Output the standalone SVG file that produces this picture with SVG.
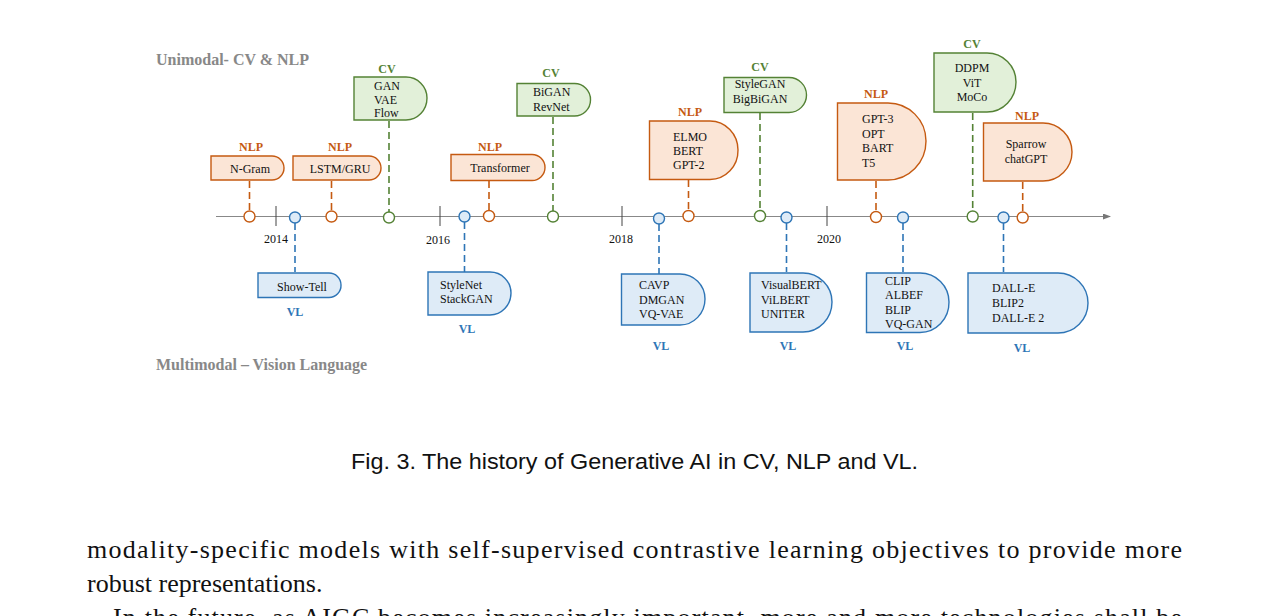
<svg xmlns="http://www.w3.org/2000/svg" width="1268" height="616" viewBox="0 0 1268 616">
<style>
.t{font-family:"Liberation Serif",serif;font-size:12px;fill:#111}
.c{text-anchor:middle}
.lab{font-family:"Liberation Serif",serif;font-size:12px;font-weight:bold;text-anchor:middle}
.no{fill:#fbe5d6;stroke:#c55a11;stroke-width:1.4}
.ng{fill:#e2f0d9;stroke:#548235;stroke-width:1.4}
.nb{fill:#deebf7;stroke:#2e75b6;stroke-width:1.4}
.lo{stroke:#c55a11;stroke-width:1.6;stroke-dasharray:7,4;fill:none}
.lg{stroke:#548235;stroke-width:1.6;stroke-dasharray:7,4;fill:none}
.lb{stroke:#2e75b6;stroke-width:1.6;stroke-dasharray:7,4;fill:none}
.co{fill:#fff;stroke:#c55a11;stroke-width:1.4}
.cg{fill:#fff;stroke:#548235;stroke-width:1.4}
.cb{fill:#deebf7;stroke:#2e75b6;stroke-width:1.4}
.yr{font-family:"Liberation Serif",serif;font-size:12px;fill:#111;text-anchor:middle}
.hd{font-family:"Liberation Serif",serif;font-size:16px;font-weight:bold;fill:#888}
.body{font-family:"Liberation Serif",serif;font-size:26px;fill:#111}
</style>
<defs><marker id="ar" markerWidth="8" markerHeight="6" refX="7" refY="3" orient="auto"><path d="M0,0 L8,3 L0,6 Z" fill="#777"/></marker></defs>
<text class="hd" x="156" y="65">Unimodal- CV &amp; NLP</text>
<text class="hd" x="156" y="370">Multimodal – Vision Language</text>
<g id="connectors">
<line x1="216" y1="216.5" x2="1110" y2="216.5" stroke="#888" stroke-width="1" marker-end="url(#ar)"/>
<g stroke="#444" stroke-width="1"><line x1="276" y1="206" x2="276" y2="226"/><line x1="440" y1="206" x2="440" y2="226"/><line x1="622" y1="206" x2="622" y2="226"/><line x1="827" y1="206" x2="827" y2="226"/></g>
<line class="lo" x1="249.5" y1="181" x2="249.5" y2="211"/>
<line class="lo" x1="331.5" y1="181" x2="331.5" y2="211"/>
<line class="lg" x1="389" y1="121" x2="389" y2="212"/>
<line class="lb" x1="295" y1="223" x2="295" y2="272"/>
<line class="lb" x1="464.5" y1="222" x2="464.5" y2="272"/>
<line class="lo" x1="489" y1="181" x2="489" y2="211"/>
<line class="lg" x1="553" y1="117" x2="553" y2="211"/>
<line class="lo" x1="688.5" y1="180" x2="688.5" y2="210"/>
<line class="lb" x1="659" y1="224" x2="659" y2="274"/>
<line class="lg" x1="760" y1="113" x2="760" y2="210"/>
<line class="lb" x1="786.5" y1="223" x2="786.5" y2="272"/>
<line class="lo" x1="876" y1="181" x2="876" y2="211"/>
<line class="lb" x1="903" y1="223" x2="903" y2="272"/>
<line class="lg" x1="972.7" y1="113" x2="972.7" y2="211"/>
<line class="lb" x1="1003.5" y1="223" x2="1003.5" y2="272"/>
<line class="lo" x1="1022.7" y1="182" x2="1022.7" y2="212"/>
</g>
<g><circle class="co" cx="249.5" cy="216.5" r="5.5"/><circle class="co" cx="331.5" cy="216.5" r="5.5"/><circle class="cg" cx="389" cy="217.5" r="5.5"/><circle class="cb" cx="295" cy="217.5" r="5.5"/><circle class="cb" cx="464.5" cy="216.5" r="5.5"/><circle class="co" cx="489" cy="216" r="5.5"/><circle class="cg" cx="553" cy="216.5" r="5.5"/><circle class="co" cx="688.5" cy="216" r="5.5"/><circle class="cb" cx="659" cy="218.5" r="5.5"/><circle class="cg" cx="760" cy="216" r="5.5"/><circle class="cb" cx="786.5" cy="217.5" r="5.5"/><circle class="co" cx="876" cy="217" r="5.5"/><circle class="cb" cx="903" cy="217.5" r="5.5"/><circle class="cg" cx="972.7" cy="216.5" r="5.5"/><circle class="cb" cx="1003.5" cy="217.5" r="5.5"/><circle class="co" cx="1022.7" cy="217.5" r="5.5"/></g>
<text class="yr" x="276" y="243">2014</text><text class="yr" x="438" y="244">2016</text><text class="yr" x="621" y="243">2018</text><text class="yr" x="829" y="243">2020</text>

<g id="ngram"><text class="lab" x="251" y="151" fill="#c55a11">NLP</text><path class="no" d="M211,156 H272 A12,12 0 0 1 284,168 A12,12 0 0 1 272,180 H211 Z"/><text class="t c" x="250" y="173">N-Gram</text></g>
<g id="lstm"><text class="lab" x="340" y="151" fill="#c55a11">NLP</text><path class="no" d="M293,156 H369 A12,12 0 0 1 381,168 A12,12 0 0 1 369,180 H293 Z"/><text class="t c" x="340" y="173">LSTM/GRU</text></g>
<g id="gan"><text class="lab" x="387" y="73" fill="#548235">CV</text><path class="ng" d="M354,77 H406 A21,21 0 0 1 427,98 A21,22 0 0 1 406,120 H354 Z"/><text class="t" x="374" y="90">GAN</text><text class="t" x="374" y="104">VAE</text><text class="t" x="374" y="117">Flow</text></g>
<g id="showtell"><path class="nb" d="M258,273 H329 A12,12 0 0 1 341,285 A12,12 0 0 1 329,297.5 H258 Z"/><text class="t c" x="302" y="291">Show-Tell</text><text class="lab" x="295" y="316" fill="#2e75b6">VL</text></g>
<g id="stylenet"><path class="nb" d="M428,272 H490 A21,21 0 0 1 511,293 A21,22 0 0 1 490,315 H428 Z"/><text class="t" x="440" y="289">StyleNet</text><text class="t" x="440" y="303">StackGAN</text><text class="lab" x="467" y="333" fill="#2e75b6">VL</text></g>
<g id="transformer"><text class="lab" x="490" y="151" fill="#c55a11">NLP</text><path class="no" d="M451,154.5 H532 A13,13 0 0 1 545,167.5 A13,13 0 0 1 532,180.5 H451 Z"/><text class="t c" x="500" y="172">Transformer</text></g>
<g id="bigan"><text class="lab" x="551" y="77" fill="#548235">CV</text><path class="ng" d="M517,83.5 H574 A16,16 0 0 1 590.5,100 A16,16 0 0 1 574,116 H517 Z"/><text class="t" x="533" y="96">BiGAN</text><text class="t" x="533" y="111">RevNet</text></g>
<g id="elmo"><text class="lab" x="690" y="116" fill="#c55a11">NLP</text><path class="no" d="M649.5,121 H710 A28,29 0 0 1 738,150 A28,29 0 0 1 710,179.5 H649.5 Z"/><text class="t" x="673" y="141">ELMO</text><text class="t" x="673" y="155">BERT</text><text class="t" x="673" y="169">GPT-2</text></g>
<g id="cavp"><path class="nb" d="M621.5,274 H680 A25,25 0 0 1 705,299 A25,26 0 0 1 680,325 H621.5 Z"/><text class="t" x="639" y="289">CAVP</text><text class="t" x="639" y="304">DMGAN</text><text class="t" x="639" y="318">VQ-VAE</text><text class="lab" x="661" y="350" fill="#2e75b6">VL</text></g>
<g id="stylegan"><text class="lab" x="760" y="71" fill="#548235">CV</text><path class="ng" d="M724,77.5 H789 A17.5,17.5 0 0 1 806.5,95 A17.5,17.5 0 0 1 789,112.5 H724 Z"/><text class="t c" x="760" y="88">StyleGAN</text><text class="t c" x="760" y="103">BigBiGAN</text></g>
<g id="visualbert"><path class="nb" d="M750,273 H803 A29,29 0 0 1 832,302 A29,30 0 0 1 803,332 H750 Z"/><text class="t" x="761" y="289">VisualBERT</text><text class="t" x="761" y="304">ViLBERT</text><text class="t" x="761" y="318">UNITER</text><text class="lab" x="788" y="350" fill="#2e75b6">VL</text></g>
<g id="gpt3"><text class="lab" x="876" y="98" fill="#c55a11">NLP</text><path class="no" d="M837.5,103 H888 A38,38 0 0 1 926,141 A38,39 0 0 1 888,180 H837.5 Z"/><text class="t" x="862" y="123">GPT-3</text><text class="t" x="862" y="138">OPT</text><text class="t" x="862" y="152">BART</text><text class="t" x="862" y="167">T5</text></g>
<g id="clip"><path class="nb" d="M866.5,273 H920 A29,29 0 0 1 949,302 A29,30 0 0 1 920,332.5 H866.5 Z"/><text class="t" x="885" y="285">CLIP</text><text class="t" x="885" y="299">ALBEF</text><text class="t" x="885" y="314">BLIP</text><text class="t" x="885" y="328">VQ-GAN</text><text class="lab" x="905" y="350" fill="#2e75b6">VL</text></g>
<g id="ddpm"><text class="lab" x="972" y="48" fill="#548235">CV</text><path class="ng" d="M934,53 H987 A29,29 0 0 1 1016,82 A29,30 0 0 1 987,112 H934 Z"/><text class="t c" x="972" y="72">DDPM</text><text class="t c" x="972" y="87">ViT</text><text class="t c" x="972" y="101">MoCo</text></g>
<g id="sparrow"><text class="lab" x="1027" y="120" fill="#c55a11">NLP</text><path class="no" d="M983.5,123 H1043 A29,29 0 0 1 1072,152 A29,29 0 0 1 1043,181 H983.5 Z"/><text class="t c" x="1026" y="148">Sparrow</text><text class="t c" x="1026" y="163">chatGPT</text></g>
<g id="dalle"><path class="nb" d="M968,273 H1058 A30,30 0 0 1 1088,303 A30,30 0 0 1 1058,333 H968 Z"/><text class="t" x="992" y="292">DALL-E</text><text class="t" x="992" y="307">BLIP2</text><text class="t" x="992" y="322">DALL-E 2</text><text class="lab" x="1022" y="352" fill="#2e75b6">VL</text></g>

<text x="351" y="469" font-family="Liberation Sans,sans-serif" font-size="21.5" fill="#111" textLength="567" lengthAdjust="spacingAndGlyphs">Fig. 3.  The history of Generative AI in CV, NLP and VL.</text>
<text class="body" x="87" y="558" textLength="1095" lengthAdjust="spacing">modality-specific models with self-supervised contrastive learning objectives to provide more</text>
<text class="body" x="87" y="592">robust representations.</text>
<text class="body" x="113" y="626" textLength="1069" lengthAdjust="spacing">In the future, as AIGC becomes increasingly important, more and more technologies shall be</text>
</svg>
